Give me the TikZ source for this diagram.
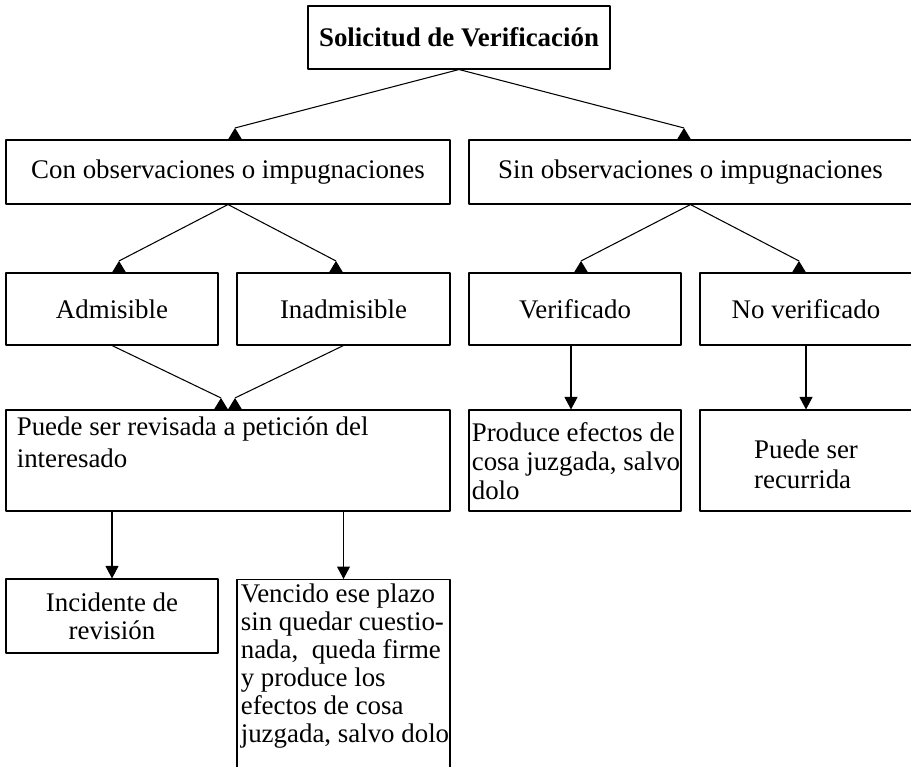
\documentclass[tikz,border=0pt]{standalone}
\usepackage{fontspec}
\setmainfont{Liberation Serif}
\usetikzlibrary{arrows.meta}

\begin{document}
\begin{tikzpicture}[line join=round,
    box/.style={draw, line width=0.6pt, inner sep=0pt, align=center, font=\fontsize{15.3}{16}\selectfont},
    boxsize/.style 2 args={minimum width=#1cm, minimum height=#2cm},
    txt/.style={inner sep=0pt, align=left, anchor=north west},
    link/.style={line width=0.6pt},
    downlink/.style={line width=0.6pt, -{Triangle[length=0.25cm, width=0.26cm]}},
    uptip/.pic={\fill (0,0) -- (-0.14cm,-0.23cm) -- (0.14cm,-0.23cm) -- cycle;}]
  \useasboundingbox (0,0) rectangle (18.22,-15.34);
  \clip (0,0) rectangle (18.22,-15.34);
  % boxes
  \node[box, boxsize={6.04}{1.26}, font=\fontsize{15.3}{16}\selectfont\bfseries] (sol) at (9.18,-0.75) {Solicitud de Verificación};
  \node[box, boxsize={8.88}{1.28}] (con) at (4.56,-3.44) {Con observaciones o impugnaciones};
  \node[box, boxsize={8.86}{1.28}] (sin) at (13.81,-3.44) {Sin observaciones o impugnaciones};
  \node[box, boxsize={4.24}{1.44}] (adm) at (2.24,-6.18) {Admisible};
  \node[box, boxsize={4.26}{1.44}] (inad) at (6.87,-6.18) {Inadmisible};
  \node[box, boxsize={4.24}{1.44}] (verif) at (11.5,-6.18) {Verificado};
  \node[box, boxsize={4.24}{1.44}] (nover) at (16.12,-6.18) {No verificado};
  \node[box, boxsize={8.88}{2.02}] (puede) at (4.56,-9.21) {};
  \node[txt, font=\fontsize{15.3}{18}\selectfont] (puedetxt) at ([xshift=0.22cm, yshift=-0.14cm]puede.north west) {Puede ser revisada a petición del\\interesado};
  \node[box, boxsize={4.24}{2.02}] (prod) at (11.5,-9.21) {};
  \node[txt, font=\fontsize{15.3}{16.5}\selectfont] (prodtxt) at ([xshift=0.06cm, yshift=-0.26cm]prod.north west) {Produce efectos de\\cosa juzgada, salvo\\dolo};
  \node[box, boxsize={4.24}{2.02}] (recur) at (16.12,-9.21) {};
  \node[font=\fontsize{15.3}{17}\selectfont, align=left, inner sep=0pt] (recurtxt) at ([yshift=-0.08cm]recur.center) {Puede ser\\recurrida};
  \node[box, boxsize={4.24}{1.48}] (incid) at (2.24,-12.32) {Incidente de\\revisión};
  \node[box, boxsize={4.26}{4.4}, anchor=north] (venc) at (6.87,-11.58) {};
  \node[txt, font=\fontsize{15.3}{16}\selectfont] (venctxt) at ([xshift=0.08cm, yshift=-0.08cm]venc.north west) {Vencido ese plazo\\sin quedar cuestio-\\nada,~ queda firme\\y produce los\\efectos de cosa\\juzgada, salvo dolo};
  % slanted connectors
  \draw[link] (sol.south) -- ([xshift=0.14cm, yshift=0.23cm]con.north) pic{uptip};
  \draw[link] (sol.south) -- ([xshift=-0.13cm, yshift=0.23cm]sin.north) pic{uptip};
  \draw[link] (con.south) -- ([xshift=0.14cm, yshift=0.23cm]adm.north) pic{uptip};
  \draw[link] (con.south) -- ([xshift=-0.15cm, yshift=0.23cm]inad.north) pic{uptip};
  \draw[link] (sin.south) -- ([xshift=0.12cm, yshift=0.23cm]verif.north) pic{uptip};
  \draw[link] (sin.south) -- ([xshift=-0.14cm, yshift=0.23cm]nover.north) pic{uptip};
  \draw[link] (adm.south) -- ([xshift=-0.14cm, yshift=0.23cm]puede.north) pic{uptip};
  \draw[link] (inad.south) -- ([xshift=0.14cm, yshift=0.23cm]puede.north) pic{uptip};
  % straight down
  \draw[downlink] ([xshift=-0.08cm]verif.south) -- ([xshift=-0.08cm]prod.north);
  \draw[downlink] (nover.south) -- (recur.north);
  \draw[downlink] (puede.south -| incid.north) -- (incid.north);
  \draw[downlink] (puede.south -| venc.north) -- (venc.north);
\end{tikzpicture}
\end{document}
